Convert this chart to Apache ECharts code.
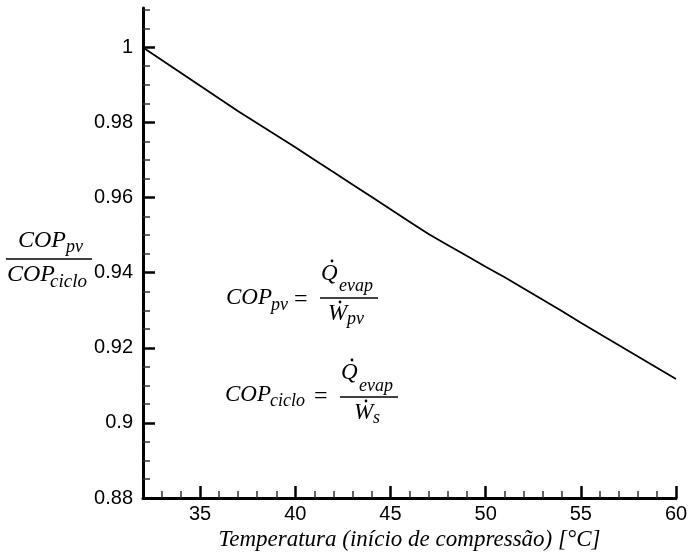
<!DOCTYPE html>
<html>
<head>
<meta charset="utf-8">
<script src="https://cdn.jsdelivr.net/npm/echarts@6/dist/echarts.min.js"></script>
<style>html,body{margin:0;padding:0;background:#fff}#c{width:690px;height:552px}</style>
</head>
<body>
<div id="c"></div>
<script>
// Data
var temperatures = [32,33,34,35,36,37,38,39,40,41,42,43,44,45,46,47,48,49,50,51,52,53,54,55,56,57,58,59,60];
var copRatio = [1.0000,0.9966,0.9932,0.9898,0.9864,0.9830,0.9798,0.9766,0.9734,0.9701,0.9668,0.9635,0.9602,0.9569,0.9536,0.9503,0.9474,0.9445,0.9416,0.9388,0.9358,0.9328,0.9298,0.9267,0.9237,0.9207,0.9177,0.9147,0.9117];
var xTickLabels = [35,40,45,50,55,60];
var xMinorTicks = [33,34,36,37,38,39,41,42,43,44,46,47,48,49,51,52,53,54,56,57,58,59];
var yTickLabels = [0.88,0.90,0.92,0.94,0.96,0.98,1.00];
var yMinorTicks = [0.885,0.89,0.895,0.905,0.91,0.915,0.925,0.93,0.935,0.945,0.95,0.955,0.965,0.97,0.975,0.985,0.99,0.995,1.005,1.01];
var xTitle = 'Temperatura (início de compressão) [°C]';

var chart = echarts.init(document.getElementById('c'), null, {renderer:'canvas'});
var serif = 'Liberation Serif';
function t(x, y, text, size, italic, align){
  return {type:'text', x:x, y:y, silent:true, style:{text:text, fill:'#000', font:(italic?'italic ':'')+size+'px "'+serif+'"', textAlign:align||'left', textVerticalAlign:'middle'}};
}
function dot(x, y){ return {type:'circle', silent:true, shape:{cx:x, cy:y, r:1.4}, style:{fill:'#000'}}; }
function bar(x1, x2, y){ return {type:'line', silent:true, shape:{x1:x1, y1:y, x2:x2, y2:y}, style:{stroke:'#000', lineWidth:1.5}}; }

var axisLabelStyle = {color:'#000', fontFamily:'Liberation Sans', fontSize:20};
var data = temperatures.map(function(v, i){ return [v, copRatio[i]]; });

chart.setOption({
  animation:false,
  backgroundColor:'#fff',
  grid:{left:143, right:14, top:8, bottom:54, outerBoundsMode:'none'},
  xAxis:[{
    type:'value', min:32, max:60, position:'bottom',
    name:xTitle, nameLocation:'middle', nameGap:27,
    nameTextStyle:{color:'#000', fontFamily:serif, fontStyle:'italic', fontSize:23},
    axisLine:{show:true, onZero:false, lineStyle:{color:'#000', width:3}},
    axisTick:{show:true, inside:true, length:12, customValues:xTickLabels, lineStyle:{color:'#000', width:2.5}},
    axisLabel:{show:true, margin:6, customValues:xTickLabels, ...axisLabelStyle},
    splitLine:{show:false}
  },{
    type:'value', min:32, max:60, position:'bottom',
    axisLine:{show:false, onZero:false},
    axisTick:{show:true, inside:true, length:7, customValues:xMinorTicks, lineStyle:{color:'#333', width:1.5}},
    axisLabel:{show:false},
    splitLine:{show:false}
  }],
  yAxis:[{
    type:'value', min:0.88, max:1.0105, position:'left',
    axisLine:{show:true, onZero:false, lineStyle:{color:'#000', width:3}},
    axisTick:{show:true, inside:true, length:12, customValues:yTickLabels, lineStyle:{color:'#000', width:2.5}},
    axisLabel:{show:true, margin:10, customValues:yTickLabels, ...axisLabelStyle},
    splitLine:{show:false}
  },{
    type:'value', min:0.88, max:1.0105, position:'left',
    axisLine:{show:false, onZero:false},
    axisTick:{show:true, inside:true, length:7, customValues:yMinorTicks, lineStyle:{color:'#333', width:1.5}},
    axisLabel:{show:false},
    splitLine:{show:false}
  }],
  series:[{
    type:'line', xAxisIndex:0, yAxisIndex:0, data:data, symbol:'none', smooth:false,
    lineStyle:{color:'#000', width:1.8}
  }],
  graphic:[
    // Y axis label (fraction)
    t(18, 241, 'COP', 24, true), t(66, 247, 'pv', 18, true),
    bar(6, 92, 259),
    t(7, 275, 'COP', 24, true), t(50, 282, 'ciclo', 19, true),
    // Formula 1
    t(226, 298, 'COP', 23, true), t(271, 305, 'pv', 18, true),
    t(294, 300, '=', 24, false),
    t(321, 274, 'Q', 23, true), t(339, 286, 'evap', 18, true), dot(332, 261),
    bar(320, 378, 298),
    t(328, 314, 'W', 23, true), t(347, 319, 'pv', 18, true), dot(340, 302),
    // Formula 2
    t(225, 395, 'COP', 23, true), t(270, 401, 'ciclo', 18, true),
    t(314, 397, '=', 24, false),
    t(341, 373, 'Q', 23, true), t(359, 386, 'evap', 18, true), dot(352, 360),
    bar(340, 398, 397),
    t(354, 413, 'W', 23, true), t(373, 418, 's', 18, true), dot(366, 401)
  ]
});
</script>
</body>
</html>
